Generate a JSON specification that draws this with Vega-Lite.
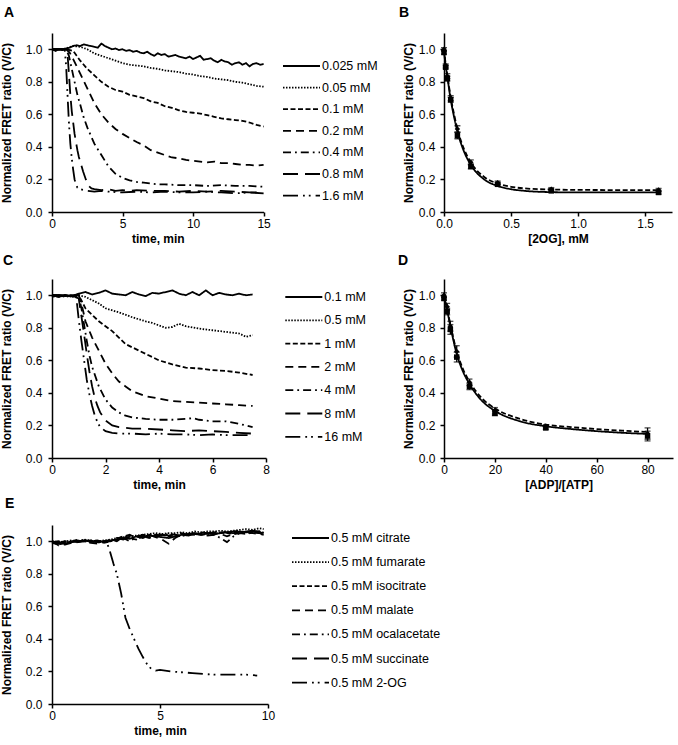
{
"$schema":"https://vega.github.io/schema/vega-lite/v6.json",
"padding":{"left":0,"top":6,"right":5,"bottom":5},
"background":"white",
"config":{
 "font":"Liberation Sans",
 "view":{"stroke":null},
 "axis":{"grid":false,"labelOverlap":false,"labelFlush":false,"domainColor":"black","domainWidth":1.5,"tickColor":"black","tickWidth":1.5,"tickSize":4,"labelFont":"Liberation Sans","labelFontSize":12,"labelColor":"black","titleFont":"Liberation Sans","titleFontSize":12,"titleFontWeight":"bold","titleColor":"black"},
 "axisX":{"labelPadding":2,"titlePadding":4},
 "axisY":{"labelPadding":6,"titlePadding":12},
 "legend":{"title":null,"orient":"none","symbolType":"stroke","symbolSize":1369,"symbolStrokeWidth":1.8,"symbolStrokeColor":"black","labelFont":"Liberation Sans","labelFontSize":12.5,"labelColor":"black","labelOffset":1,"clipHeight":11,"labelLimit":400},
 "title":{"anchor":"start","frame":"group","font":"Liberation Sans","fontSize":14,"fontWeight":"bold","color":"black","baseline":"alphabetic"}
},
"datasets":{
"A":[
{"s":"0.025 mM","t":0,"v":1.0},{"s":"0.025 mM","t":0.25,"v":0.99},{"s":"0.025 mM","t":0.5,"v":1.0},{"s":"0.025 mM","t":0.75,"v":0.995},{"s":"0.025 mM","t":1,"v":1.005},{"s":"0.025 mM","t":1.25,"v":1.01},{"s":"0.025 mM","t":1.5,"v":1.02},{"s":"0.025 mM","t":1.75,"v":1.025},{"s":"0.025 mM","t":2,"v":1.02},{"s":"0.025 mM","t":2.25,"v":1.03},{"s":"0.025 mM","t":2.5,"v":1.025},{"s":"0.025 mM","t":2.75,"v":1.02},{"s":"0.025 mM","t":3,"v":1.015},{"s":"0.025 mM","t":3.25,"v":1.01},{"s":"0.025 mM","t":3.5,"v":1.035},{"s":"0.025 mM","t":3.75,"v":1.02},{"s":"0.025 mM","t":4,"v":1.01},{"s":"0.025 mM","t":4.25,"v":1.0},{"s":"0.025 mM","t":4.5,"v":1.005},{"s":"0.025 mM","t":4.75,"v":0.995},{"s":"0.025 mM","t":5,"v":1.0},{"s":"0.025 mM","t":5.25,"v":0.99},{"s":"0.025 mM","t":5.5,"v":0.995},{"s":"0.025 mM","t":5.75,"v":0.985},{"s":"0.025 mM","t":6,"v":0.99},{"s":"0.025 mM","t":6.25,"v":0.98},{"s":"0.025 mM","t":6.5,"v":0.975},{"s":"0.025 mM","t":6.75,"v":0.985},{"s":"0.025 mM","t":7,"v":0.97},{"s":"0.025 mM","t":7.25,"v":0.96},{"s":"0.025 mM","t":7.5,"v":0.975},{"s":"0.025 mM","t":7.75,"v":0.965},{"s":"0.025 mM","t":8,"v":0.97},{"s":"0.025 mM","t":8.25,"v":0.955},{"s":"0.025 mM","t":8.5,"v":0.96},{"s":"0.025 mM","t":8.75,"v":0.965},{"s":"0.025 mM","t":9,"v":0.955},{"s":"0.025 mM","t":9.25,"v":0.95},{"s":"0.025 mM","t":9.5,"v":0.945},{"s":"0.025 mM","t":9.75,"v":0.955},{"s":"0.025 mM","t":10,"v":0.94},{"s":"0.025 mM","t":10.25,"v":0.95},{"s":"0.025 mM","t":10.5,"v":0.96},{"s":"0.025 mM","t":10.75,"v":0.935},{"s":"0.025 mM","t":11,"v":0.94},{"s":"0.025 mM","t":11.25,"v":0.945},{"s":"0.025 mM","t":11.5,"v":0.93},{"s":"0.025 mM","t":11.75,"v":0.92},{"s":"0.025 mM","t":12,"v":0.935},{"s":"0.025 mM","t":12.25,"v":0.925},{"s":"0.025 mM","t":12.5,"v":0.92},{"s":"0.025 mM","t":12.75,"v":0.905},{"s":"0.025 mM","t":13,"v":0.915},{"s":"0.025 mM","t":13.25,"v":0.92},{"s":"0.025 mM","t":13.5,"v":0.905},{"s":"0.025 mM","t":13.75,"v":0.915},{"s":"0.025 mM","t":14,"v":0.895},{"s":"0.025 mM","t":14.25,"v":0.91},{"s":"0.025 mM","t":14.5,"v":0.915},{"s":"0.025 mM","t":14.75,"v":0.905},{"s":"0.025 mM","t":15,"v":0.91},
{"s":"0.05 mM","t":0,"v":1.0},{"s":"0.05 mM","t":0.5,"v":1.0},{"s":"0.05 mM","t":1,"v":1.005},{"s":"0.05 mM","t":1.5,"v":1.02},{"s":"0.05 mM","t":2,"v":1.015},{"s":"0.05 mM","t":2.5,"v":1.0},{"s":"0.05 mM","t":3,"v":0.975},{"s":"0.05 mM","t":3.5,"v":0.96},{"s":"0.05 mM","t":4,"v":0.945},{"s":"0.05 mM","t":4.5,"v":0.93},{"s":"0.05 mM","t":5,"v":0.915},{"s":"0.05 mM","t":5.5,"v":0.905},{"s":"0.05 mM","t":6,"v":0.9},{"s":"0.05 mM","t":6.5,"v":0.895},{"s":"0.05 mM","t":7,"v":0.885},{"s":"0.05 mM","t":7.5,"v":0.88},{"s":"0.05 mM","t":8,"v":0.87},{"s":"0.05 mM","t":8.5,"v":0.865},{"s":"0.05 mM","t":9,"v":0.86},{"s":"0.05 mM","t":9.5,"v":0.85},{"s":"0.05 mM","t":10,"v":0.845},{"s":"0.05 mM","t":10.5,"v":0.835},{"s":"0.05 mM","t":11,"v":0.83},{"s":"0.05 mM","t":11.5,"v":0.82},{"s":"0.05 mM","t":12,"v":0.815},{"s":"0.05 mM","t":12.5,"v":0.81},{"s":"0.05 mM","t":13,"v":0.8},{"s":"0.05 mM","t":13.5,"v":0.795},{"s":"0.05 mM","t":14,"v":0.785},{"s":"0.05 mM","t":14.5,"v":0.775},{"s":"0.05 mM","t":15,"v":0.77},
{"s":"0.1 mM","t":0,"v":1.0},{"s":"0.1 mM","t":0.5,"v":1.0},{"s":"0.1 mM","t":1,"v":1.0},{"s":"0.1 mM","t":1.5,"v":0.99},{"s":"0.1 mM","t":1.75,"v":0.96},{"s":"0.1 mM","t":2,"v":0.93},{"s":"0.1 mM","t":2.5,"v":0.88},{"s":"0.1 mM","t":3,"v":0.84},{"s":"0.1 mM","t":3.5,"v":0.8},{"s":"0.1 mM","t":4,"v":0.77},{"s":"0.1 mM","t":4.5,"v":0.75},{"s":"0.1 mM","t":5,"v":0.74},{"s":"0.1 mM","t":5.5,"v":0.72},{"s":"0.1 mM","t":6,"v":0.71},{"s":"0.1 mM","t":6.5,"v":0.7},{"s":"0.1 mM","t":7,"v":0.68},{"s":"0.1 mM","t":7.5,"v":0.67},{"s":"0.1 mM","t":8,"v":0.65},{"s":"0.1 mM","t":8.5,"v":0.64},{"s":"0.1 mM","t":9,"v":0.625},{"s":"0.1 mM","t":9.5,"v":0.615},{"s":"0.1 mM","t":10,"v":0.61},{"s":"0.1 mM","t":10.5,"v":0.605},{"s":"0.1 mM","t":11,"v":0.595},{"s":"0.1 mM","t":11.5,"v":0.585},{"s":"0.1 mM","t":12,"v":0.575},{"s":"0.1 mM","t":12.5,"v":0.57},{"s":"0.1 mM","t":13,"v":0.565},{"s":"0.1 mM","t":13.5,"v":0.56},{"s":"0.1 mM","t":14,"v":0.55},{"s":"0.1 mM","t":14.5,"v":0.535},{"s":"0.1 mM","t":15,"v":0.525},
{"s":"0.2 mM","t":0,"v":1.0},{"s":"0.2 mM","t":0.5,"v":1.0},{"s":"0.2 mM","t":1,"v":1.0},{"s":"0.2 mM","t":1.25,"v":0.98},{"s":"0.2 mM","t":1.5,"v":0.94},{"s":"0.2 mM","t":2,"v":0.85},{"s":"0.2 mM","t":2.5,"v":0.76},{"s":"0.2 mM","t":3,"v":0.67},{"s":"0.2 mM","t":3.5,"v":0.6},{"s":"0.2 mM","t":4,"v":0.55},{"s":"0.2 mM","t":4.5,"v":0.51},{"s":"0.2 mM","t":5,"v":0.48},{"s":"0.2 mM","t":5.5,"v":0.455},{"s":"0.2 mM","t":6,"v":0.43},{"s":"0.2 mM","t":6.5,"v":0.41},{"s":"0.2 mM","t":7,"v":0.38},{"s":"0.2 mM","t":7.5,"v":0.365},{"s":"0.2 mM","t":8,"v":0.35},{"s":"0.2 mM","t":8.5,"v":0.335},{"s":"0.2 mM","t":9,"v":0.33},{"s":"0.2 mM","t":9.5,"v":0.32},{"s":"0.2 mM","t":10,"v":0.315},{"s":"0.2 mM","t":10.5,"v":0.31},{"s":"0.2 mM","t":11,"v":0.305},{"s":"0.2 mM","t":11.5,"v":0.31},{"s":"0.2 mM","t":12,"v":0.3},{"s":"0.2 mM","t":12.5,"v":0.3},{"s":"0.2 mM","t":13,"v":0.295},{"s":"0.2 mM","t":13.5,"v":0.29},{"s":"0.2 mM","t":14,"v":0.29},{"s":"0.2 mM","t":14.5,"v":0.285},{"s":"0.2 mM","t":15,"v":0.29},
{"s":"0.4 mM","t":0,"v":1.0},{"s":"0.4 mM","t":0.5,"v":1.0},{"s":"0.4 mM","t":1,"v":1.0},{"s":"0.4 mM","t":1.2,"v":0.96},{"s":"0.4 mM","t":1.4,"v":0.88},{"s":"0.4 mM","t":1.6,"v":0.8},{"s":"0.4 mM","t":1.8,"v":0.72},{"s":"0.4 mM","t":2,"v":0.66},{"s":"0.4 mM","t":2.25,"v":0.58},{"s":"0.4 mM","t":2.5,"v":0.52},{"s":"0.4 mM","t":2.75,"v":0.47},{"s":"0.4 mM","t":3,"v":0.42},{"s":"0.4 mM","t":3.5,"v":0.35},{"s":"0.4 mM","t":4,"v":0.28},{"s":"0.4 mM","t":4.5,"v":0.235},{"s":"0.4 mM","t":5,"v":0.21},{"s":"0.4 mM","t":5.5,"v":0.195},{"s":"0.4 mM","t":6,"v":0.185},{"s":"0.4 mM","t":6.5,"v":0.18},{"s":"0.4 mM","t":7,"v":0.175},{"s":"0.4 mM","t":7.5,"v":0.17},{"s":"0.4 mM","t":8,"v":0.17},{"s":"0.4 mM","t":9,"v":0.165},{"s":"0.4 mM","t":10,"v":0.165},{"s":"0.4 mM","t":11,"v":0.16},{"s":"0.4 mM","t":12,"v":0.165},{"s":"0.4 mM","t":13,"v":0.16},{"s":"0.4 mM","t":14,"v":0.16},{"s":"0.4 mM","t":15,"v":0.155},
{"s":"0.8 mM","t":0,"v":1.0},{"s":"0.8 mM","t":0.5,"v":1.0},{"s":"0.8 mM","t":1,"v":1.0},{"s":"0.8 mM","t":1.1,"v":0.97},{"s":"0.8 mM","t":1.2,"v":0.85},{"s":"0.8 mM","t":1.3,"v":0.72},{"s":"0.8 mM","t":1.4,"v":0.62},{"s":"0.8 mM","t":1.5,"v":0.55},{"s":"0.8 mM","t":1.6,"v":0.48},{"s":"0.8 mM","t":1.7,"v":0.43},{"s":"0.8 mM","t":1.8,"v":0.38},{"s":"0.8 mM","t":1.9,"v":0.34},{"s":"0.8 mM","t":2,"v":0.31},{"s":"0.8 mM","t":2.2,"v":0.25},{"s":"0.8 mM","t":2.4,"v":0.2},{"s":"0.8 mM","t":2.6,"v":0.16},{"s":"0.8 mM","t":2.8,"v":0.145},{"s":"0.8 mM","t":3,"v":0.14},{"s":"0.8 mM","t":3.5,"v":0.135},{"s":"0.8 mM","t":4,"v":0.14},{"s":"0.8 mM","t":4.5,"v":0.13},{"s":"0.8 mM","t":5,"v":0.135},{"s":"0.8 mM","t":5.5,"v":0.13},{"s":"0.8 mM","t":6,"v":0.135},{"s":"0.8 mM","t":7,"v":0.13},{"s":"0.8 mM","t":8,"v":0.13},{"s":"0.8 mM","t":9,"v":0.125},{"s":"0.8 mM","t":10,"v":0.13},{"s":"0.8 mM","t":11,"v":0.125},{"s":"0.8 mM","t":12,"v":0.13},{"s":"0.8 mM","t":13,"v":0.125},{"s":"0.8 mM","t":14,"v":0.12},{"s":"0.8 mM","t":15,"v":0.12},
{"s":"1.6 mM","t":0,"v":1.0},{"s":"1.6 mM","t":0.5,"v":1.0},{"s":"1.6 mM","t":0.9,"v":1.0},{"s":"1.6 mM","t":1.0,"v":0.9},{"s":"1.6 mM","t":1.1,"v":0.72},{"s":"1.6 mM","t":1.2,"v":0.55},{"s":"1.6 mM","t":1.3,"v":0.42},{"s":"1.6 mM","t":1.4,"v":0.33},{"s":"1.6 mM","t":1.5,"v":0.26},{"s":"1.6 mM","t":1.6,"v":0.2},{"s":"1.6 mM","t":1.7,"v":0.17},{"s":"1.6 mM","t":1.8,"v":0.15},{"s":"1.6 mM","t":2,"v":0.14},{"s":"1.6 mM","t":2.5,"v":0.13},{"s":"1.6 mM","t":3,"v":0.125},{"s":"1.6 mM","t":3.5,"v":0.13},{"s":"1.6 mM","t":4,"v":0.125},{"s":"1.6 mM","t":5,"v":0.12},{"s":"1.6 mM","t":6,"v":0.125},{"s":"1.6 mM","t":7,"v":0.12},{"s":"1.6 mM","t":8,"v":0.125},{"s":"1.6 mM","t":9,"v":0.12},{"s":"1.6 mM","t":10,"v":0.12},{"s":"1.6 mM","t":11,"v":0.125},{"s":"1.6 mM","t":12,"v":0.12},{"s":"1.6 mM","t":13,"v":0.115},{"s":"1.6 mM","t":14,"v":0.12},{"s":"1.6 mM","t":15,"v":0.115}
],
"Bfit":[
{"s":"s1","x":0,"v":1.0},{"s":"s1","x":0.0125,"v":0.91},{"s":"s1","x":0.025,"v":0.84},{"s":"s1","x":0.05,"v":0.705},{"s":"s1","x":0.075,"v":0.6},{"s":"s1","x":0.1,"v":0.51},{"s":"s1","x":0.15,"v":0.385},{"s":"s1","x":0.2,"v":0.305},{"s":"s1","x":0.3,"v":0.215},{"s":"s1","x":0.4,"v":0.175},{"s":"s1","x":0.5,"v":0.155},{"s":"s1","x":0.6,"v":0.145},{"s":"s1","x":0.8,"v":0.138},{"s":"s1","x":1.0,"v":0.136},{"s":"s1","x":1.2,"v":0.135},{"s":"s1","x":1.6,"v":0.135},
{"s":"s2","x":0,"v":0.985},{"s":"s2","x":0.0125,"v":0.9},{"s":"s2","x":0.025,"v":0.83},{"s":"s2","x":0.05,"v":0.69},{"s":"s2","x":0.075,"v":0.585},{"s":"s2","x":0.1,"v":0.495},{"s":"s2","x":0.15,"v":0.37},{"s":"s2","x":0.2,"v":0.29},{"s":"s2","x":0.3,"v":0.2},{"s":"s2","x":0.4,"v":0.16},{"s":"s2","x":0.5,"v":0.14},{"s":"s2","x":0.6,"v":0.13},{"s":"s2","x":0.8,"v":0.122},{"s":"s2","x":1.0,"v":0.12},{"s":"s2","x":1.2,"v":0.12},{"s":"s2","x":1.6,"v":0.12}
],
"Bpts":[
{"s":"s1","x":0,"v":1.0,"lo":0.99,"hi":1.01},{"s":"s1","x":0.0125,"v":0.9,"lo":0.89,"hi":0.91},{"s":"s1","x":0.025,"v":0.835,"lo":0.82,"hi":0.85},{"s":"s1","x":0.05,"v":0.7,"lo":0.685,"hi":0.715},{"s":"s1","x":0.1,"v":0.51,"lo":0.49,"hi":0.53},{"s":"s1","x":0.2,"v":0.305,"lo":0.29,"hi":0.32},{"s":"s1","x":0.4,"v":0.18,"lo":0.17,"hi":0.19},{"s":"s1","x":0.8,"v":0.14,"lo":0.13,"hi":0.15},{"s":"s1","x":1.6,"v":0.135,"lo":0.125,"hi":0.145},
{"s":"s2","x":0,"v":0.98,"lo":0.97,"hi":0.99},{"s":"s2","x":0.0125,"v":0.89,"lo":0.88,"hi":0.9},{"s":"s2","x":0.025,"v":0.82,"lo":0.805,"hi":0.835},{"s":"s2","x":0.05,"v":0.69,"lo":0.675,"hi":0.705},{"s":"s2","x":0.1,"v":0.47,"lo":0.45,"hi":0.49},{"s":"s2","x":0.2,"v":0.28,"lo":0.265,"hi":0.295},{"s":"s2","x":0.4,"v":0.17,"lo":0.16,"hi":0.18},{"s":"s2","x":0.8,"v":0.13,"lo":0.12,"hi":0.14},{"s":"s2","x":1.6,"v":0.12,"lo":0.11,"hi":0.13}
],
"C":[
{"s":"0.1 mM","t":0,"v":1.0},{"s":"0.1 mM","t":0.25,"v":0.99},{"s":"0.1 mM","t":0.5,"v":1.0},{"s":"0.1 mM","t":0.75,"v":0.995},{"s":"0.1 mM","t":1,"v":1.01},{"s":"0.1 mM","t":1.25,"v":1.02},{"s":"0.1 mM","t":1.5,"v":1.005},{"s":"0.1 mM","t":1.75,"v":1.015},{"s":"0.1 mM","t":2,"v":1.03},{"s":"0.1 mM","t":2.25,"v":1.01},{"s":"0.1 mM","t":2.5,"v":1.005},{"s":"0.1 mM","t":2.75,"v":1.0},{"s":"0.1 mM","t":3,"v":1.02},{"s":"0.1 mM","t":3.25,"v":1.005},{"s":"0.1 mM","t":3.5,"v":0.995},{"s":"0.1 mM","t":3.75,"v":1.015},{"s":"0.1 mM","t":4,"v":1.01},{"s":"0.1 mM","t":4.25,"v":1.02},{"s":"0.1 mM","t":4.5,"v":1.03},{"s":"0.1 mM","t":4.75,"v":1.01},{"s":"0.1 mM","t":5,"v":1.0},{"s":"0.1 mM","t":5.25,"v":1.02},{"s":"0.1 mM","t":5.5,"v":1.0},{"s":"0.1 mM","t":5.75,"v":1.03},{"s":"0.1 mM","t":6,"v":1.0},{"s":"0.1 mM","t":6.25,"v":1.015},{"s":"0.1 mM","t":6.5,"v":1.005},{"s":"0.1 mM","t":6.75,"v":1.0},{"s":"0.1 mM","t":7,"v":1.01},{"s":"0.1 mM","t":7.25,"v":1.0},{"s":"0.1 mM","t":7.5,"v":1.005},
{"s":"0.5 mM","t":0,"v":1.0},{"s":"0.5 mM","t":0.25,"v":0.995},{"s":"0.5 mM","t":0.5,"v":1.0},{"s":"0.5 mM","t":0.75,"v":0.99},{"s":"0.5 mM","t":1,"v":1.0},{"s":"0.5 mM","t":1.25,"v":0.99},{"s":"0.5 mM","t":1.5,"v":0.97},{"s":"0.5 mM","t":1.75,"v":0.95},{"s":"0.5 mM","t":2,"v":0.92},{"s":"0.5 mM","t":2.5,"v":0.895},{"s":"0.5 mM","t":3,"v":0.865},{"s":"0.5 mM","t":3.5,"v":0.84},{"s":"0.5 mM","t":3.75,"v":0.83},{"s":"0.5 mM","t":4,"v":0.815},{"s":"0.5 mM","t":4.25,"v":0.8},{"s":"0.5 mM","t":4.5,"v":0.805},{"s":"0.5 mM","t":4.75,"v":0.825},{"s":"0.5 mM","t":5,"v":0.81},{"s":"0.5 mM","t":5.5,"v":0.795},{"s":"0.5 mM","t":6,"v":0.785},{"s":"0.5 mM","t":6.5,"v":0.775},{"s":"0.5 mM","t":7,"v":0.765},{"s":"0.5 mM","t":7.25,"v":0.745},{"s":"0.5 mM","t":7.5,"v":0.755},
{"s":"1 mM","t":0,"v":1.0},{"s":"1 mM","t":0.25,"v":1.0},{"s":"1 mM","t":0.5,"v":0.99},{"s":"1 mM","t":0.75,"v":1.0},{"s":"1 mM","t":1,"v":1.0},{"s":"1 mM","t":1.25,"v":0.92},{"s":"1 mM","t":1.5,"v":0.88},{"s":"1 mM","t":1.75,"v":0.84},{"s":"1 mM","t":2,"v":0.81},{"s":"1 mM","t":2.25,"v":0.78},{"s":"1 mM","t":2.5,"v":0.74},{"s":"1 mM","t":2.75,"v":0.7},{"s":"1 mM","t":3,"v":0.68},{"s":"1 mM","t":3.5,"v":0.64},{"s":"1 mM","t":4,"v":0.6},{"s":"1 mM","t":4.5,"v":0.575},{"s":"1 mM","t":5,"v":0.555},{"s":"1 mM","t":5.5,"v":0.55},{"s":"1 mM","t":6,"v":0.54},{"s":"1 mM","t":6.5,"v":0.535},{"s":"1 mM","t":7,"v":0.525},{"s":"1 mM","t":7.5,"v":0.51},
{"s":"2 mM","t":0,"v":0.99},{"s":"2 mM","t":0.25,"v":1.0},{"s":"2 mM","t":0.5,"v":1.0},{"s":"2 mM","t":0.75,"v":0.995},{"s":"2 mM","t":1,"v":1.0},{"s":"2 mM","t":1.1,"v":0.95},{"s":"2 mM","t":1.25,"v":0.84},{"s":"2 mM","t":1.5,"v":0.74},{"s":"2 mM","t":1.75,"v":0.66},{"s":"2 mM","t":2,"v":0.58},{"s":"2 mM","t":2.25,"v":0.52},{"s":"2 mM","t":2.5,"v":0.47},{"s":"2 mM","t":2.75,"v":0.44},{"s":"2 mM","t":3,"v":0.41},{"s":"2 mM","t":3.5,"v":0.38},{"s":"2 mM","t":4,"v":0.365},{"s":"2 mM","t":4.5,"v":0.35},{"s":"2 mM","t":5,"v":0.345},{"s":"2 mM","t":5.5,"v":0.34},{"s":"2 mM","t":6,"v":0.335},{"s":"2 mM","t":6.5,"v":0.33},{"s":"2 mM","t":7,"v":0.325},{"s":"2 mM","t":7.5,"v":0.32},
{"s":"4 mM","t":0,"v":1.0},{"s":"4 mM","t":0.25,"v":0.99},{"s":"4 mM","t":0.5,"v":1.0},{"s":"4 mM","t":0.75,"v":1.0},{"s":"4 mM","t":1,"v":1.0},{"s":"4 mM","t":1.1,"v":0.92},{"s":"4 mM","t":1.2,"v":0.82},{"s":"4 mM","t":1.3,"v":0.72},{"s":"4 mM","t":1.4,"v":0.63},{"s":"4 mM","t":1.5,"v":0.56},{"s":"4 mM","t":1.75,"v":0.44},{"s":"4 mM","t":2,"v":0.36},{"s":"4 mM","t":2.25,"v":0.31},{"s":"4 mM","t":2.5,"v":0.28},{"s":"4 mM","t":2.75,"v":0.26},{"s":"4 mM","t":3,"v":0.25},{"s":"4 mM","t":3.5,"v":0.24},{"s":"4 mM","t":4,"v":0.235},{"s":"4 mM","t":4.5,"v":0.235},{"s":"4 mM","t":5,"v":0.24},{"s":"4 mM","t":5.25,"v":0.245},{"s":"4 mM","t":5.5,"v":0.235},{"s":"4 mM","t":6,"v":0.225},{"s":"4 mM","t":6.5,"v":0.225},{"s":"4 mM","t":7,"v":0.21},{"s":"4 mM","t":7.5,"v":0.19},
{"s":"8 mM","t":0,"v":1.0},{"s":"8 mM","t":0.25,"v":1.0},{"s":"8 mM","t":0.5,"v":0.995},{"s":"8 mM","t":0.75,"v":1.0},{"s":"8 mM","t":1,"v":0.98},{"s":"8 mM","t":1.1,"v":0.87},{"s":"8 mM","t":1.2,"v":0.76},{"s":"8 mM","t":1.3,"v":0.64},{"s":"8 mM","t":1.4,"v":0.53},{"s":"8 mM","t":1.5,"v":0.44},{"s":"8 mM","t":1.6,"v":0.37},{"s":"8 mM","t":1.7,"v":0.32},{"s":"8 mM","t":1.8,"v":0.28},{"s":"8 mM","t":2,"v":0.23},{"s":"8 mM","t":2.25,"v":0.2},{"s":"8 mM","t":2.5,"v":0.19},{"s":"8 mM","t":3,"v":0.18},{"s":"8 mM","t":3.5,"v":0.18},{"s":"8 mM","t":4,"v":0.175},{"s":"8 mM","t":4.5,"v":0.17},{"s":"8 mM","t":5,"v":0.165},{"s":"8 mM","t":5.5,"v":0.17},{"s":"8 mM","t":6,"v":0.165},{"s":"8 mM","t":6.5,"v":0.16},{"s":"8 mM","t":7,"v":0.155},{"s":"8 mM","t":7.5,"v":0.15},
{"s":"16 mM","t":0,"v":1.0},{"s":"16 mM","t":0.25,"v":1.0},{"s":"16 mM","t":0.5,"v":1.0},{"s":"16 mM","t":0.75,"v":0.99},{"s":"16 mM","t":0.9,"v":1.0},{"s":"16 mM","t":1,"v":0.85},{"s":"16 mM","t":1.1,"v":0.72},{"s":"16 mM","t":1.2,"v":0.6},{"s":"16 mM","t":1.3,"v":0.48},{"s":"16 mM","t":1.4,"v":0.39},{"s":"16 mM","t":1.5,"v":0.32},{"s":"16 mM","t":1.6,"v":0.26},{"s":"16 mM","t":1.7,"v":0.22},{"s":"16 mM","t":1.8,"v":0.19},{"s":"16 mM","t":2,"v":0.165},{"s":"16 mM","t":2.25,"v":0.155},{"s":"16 mM","t":2.5,"v":0.15},{"s":"16 mM","t":3,"v":0.15},{"s":"16 mM","t":3.5,"v":0.145},{"s":"16 mM","t":4,"v":0.15},{"s":"16 mM","t":4.5,"v":0.145},{"s":"16 mM","t":5,"v":0.145},{"s":"16 mM","t":5.5,"v":0.14},{"s":"16 mM","t":6,"v":0.145},{"s":"16 mM","t":6.5,"v":0.14},{"s":"16 mM","t":7,"v":0.14},{"s":"16 mM","t":7.5,"v":0.14}
],
"Dfit":[
{"s":"s1","x":0,"v":1.0},{"s":"s1","x":1,"v":0.935},{"s":"s1","x":2.5,"v":0.82},{"s":"s1","x":5,"v":0.655},{"s":"s1","x":7.5,"v":0.545},{"s":"s1","x":10,"v":0.47},{"s":"s1","x":15,"v":0.365},{"s":"s1","x":20,"v":0.305},{"s":"s1","x":30,"v":0.24},{"s":"s1","x":40,"v":0.205},{"s":"s1","x":50,"v":0.19},{"s":"s1","x":60,"v":0.178},{"s":"s1","x":70,"v":0.168},{"s":"s1","x":80,"v":0.16},
{"s":"s2","x":0,"v":0.99},{"s":"s2","x":1,"v":0.925},{"s":"s2","x":2.5,"v":0.81},{"s":"s2","x":5,"v":0.64},{"s":"s2","x":7.5,"v":0.53},{"s":"s2","x":10,"v":0.455},{"s":"s2","x":15,"v":0.35},{"s":"s2","x":20,"v":0.29},{"s":"s2","x":30,"v":0.225},{"s":"s2","x":40,"v":0.195},{"s":"s2","x":50,"v":0.178},{"s":"s2","x":60,"v":0.165},{"s":"s2","x":70,"v":0.155},{"s":"s2","x":80,"v":0.148}
],
"Dpts":[
{"s":"s1","x":0,"v":1.0,"lo":0.985,"hi":1.015},{"s":"s1","x":1.25,"v":0.93,"lo":0.91,"hi":0.95},{"s":"s1","x":2.5,"v":0.81,"lo":0.78,"hi":0.84},{"s":"s1","x":5,"v":0.655,"lo":0.62,"hi":0.69},{"s":"s1","x":10,"v":0.465,"lo":0.445,"hi":0.485},{"s":"s1","x":20,"v":0.29,"lo":0.27,"hi":0.31},{"s":"s1","x":40,"v":0.195,"lo":0.185,"hi":0.205},{"s":"s1","x":80,"v":0.15,"lo":0.115,"hi":0.185},
{"s":"s2","x":0,"v":0.98,"lo":0.97,"hi":0.99},{"s":"s2","x":1.25,"v":0.9,"lo":0.88,"hi":0.92},{"s":"s2","x":2.5,"v":0.79,"lo":0.76,"hi":0.82},{"s":"s2","x":5,"v":0.62,"lo":0.59,"hi":0.65},{"s":"s2","x":10,"v":0.44,"lo":0.42,"hi":0.46},{"s":"s2","x":20,"v":0.275,"lo":0.26,"hi":0.29},{"s":"s2","x":40,"v":0.185,"lo":0.175,"hi":0.195},{"s":"s2","x":80,"v":0.135,"lo":0.105,"hi":0.165}
],
"E":[
{"s":"0.5 mM citrate","t":0,"v":1.0},{"s":"0.5 mM citrate","t":0.3,"v":0.99},{"s":"0.5 mM citrate","t":0.6,"v":0.985},{"s":"0.5 mM citrate","t":0.9,"v":0.995},{"s":"0.5 mM citrate","t":1.2,"v":1.0},{"s":"0.5 mM citrate","t":1.5,"v":1.005},{"s":"0.5 mM citrate","t":1.8,"v":1.0},{"s":"0.5 mM citrate","t":2.1,"v":0.995},{"s":"0.5 mM citrate","t":2.4,"v":1.0},{"s":"0.5 mM citrate","t":2.7,"v":1.005},{"s":"0.5 mM citrate","t":3.0,"v":1.01},{"s":"0.5 mM citrate","t":3.3,"v":1.02},{"s":"0.5 mM citrate","t":3.6,"v":1.015},{"s":"0.5 mM citrate","t":3.9,"v":1.03},{"s":"0.5 mM citrate","t":4.2,"v":1.02},{"s":"0.5 mM citrate","t":4.5,"v":1.035},{"s":"0.5 mM citrate","t":4.8,"v":1.03},{"s":"0.5 mM citrate","t":5.1,"v":1.025},{"s":"0.5 mM citrate","t":5.4,"v":1.02},{"s":"0.5 mM citrate","t":5.7,"v":1.03},{"s":"0.5 mM citrate","t":6.0,"v":1.04},{"s":"0.5 mM citrate","t":6.3,"v":1.035},{"s":"0.5 mM citrate","t":6.6,"v":1.045},{"s":"0.5 mM citrate","t":6.9,"v":1.04},{"s":"0.5 mM citrate","t":7.2,"v":1.05},{"s":"0.5 mM citrate","t":7.5,"v":1.045},{"s":"0.5 mM citrate","t":7.8,"v":1.05},{"s":"0.5 mM citrate","t":8.1,"v":1.055},{"s":"0.5 mM citrate","t":8.4,"v":1.05},{"s":"0.5 mM citrate","t":8.7,"v":1.06},{"s":"0.5 mM citrate","t":9.0,"v":1.055},{"s":"0.5 mM citrate","t":9.3,"v":1.06},{"s":"0.5 mM citrate","t":9.6,"v":1.05},{"s":"0.5 mM citrate","t":9.8,"v":1.055},
{"s":"0.5 mM fumarate","t":0,"v":1.0},{"s":"0.5 mM fumarate","t":0.3,"v":0.995},{"s":"0.5 mM fumarate","t":0.6,"v":1.0},{"s":"0.5 mM fumarate","t":0.9,"v":1.005},{"s":"0.5 mM fumarate","t":1.2,"v":1.0},{"s":"0.5 mM fumarate","t":1.5,"v":1.01},{"s":"0.5 mM fumarate","t":1.8,"v":1.005},{"s":"0.5 mM fumarate","t":2.1,"v":1.0},{"s":"0.5 mM fumarate","t":2.4,"v":1.005},{"s":"0.5 mM fumarate","t":2.7,"v":1.01},{"s":"0.5 mM fumarate","t":3.0,"v":1.02},{"s":"0.5 mM fumarate","t":3.3,"v":1.025},{"s":"0.5 mM fumarate","t":3.6,"v":1.03},{"s":"0.5 mM fumarate","t":3.9,"v":1.035},{"s":"0.5 mM fumarate","t":4.2,"v":1.04},{"s":"0.5 mM fumarate","t":4.5,"v":1.045},{"s":"0.5 mM fumarate","t":4.8,"v":1.05},{"s":"0.5 mM fumarate","t":5.1,"v":1.045},{"s":"0.5 mM fumarate","t":5.4,"v":1.05},{"s":"0.5 mM fumarate","t":5.7,"v":1.05},{"s":"0.5 mM fumarate","t":6.0,"v":1.055},{"s":"0.5 mM fumarate","t":6.3,"v":1.05},{"s":"0.5 mM fumarate","t":6.6,"v":1.06},{"s":"0.5 mM fumarate","t":6.9,"v":1.055},{"s":"0.5 mM fumarate","t":7.2,"v":1.06},{"s":"0.5 mM fumarate","t":7.5,"v":1.06},{"s":"0.5 mM fumarate","t":7.8,"v":1.065},{"s":"0.5 mM fumarate","t":8.1,"v":1.06},{"s":"0.5 mM fumarate","t":8.4,"v":1.065},{"s":"0.5 mM fumarate","t":8.7,"v":1.07},{"s":"0.5 mM fumarate","t":9.0,"v":1.075},{"s":"0.5 mM fumarate","t":9.3,"v":1.07},{"s":"0.5 mM fumarate","t":9.6,"v":1.08},{"s":"0.5 mM fumarate","t":9.8,"v":1.075},
{"s":"0.5 mM isocitrate","t":0,"v":0.99},{"s":"0.5 mM isocitrate","t":0.3,"v":0.98},{"s":"0.5 mM isocitrate","t":0.6,"v":0.99},{"s":"0.5 mM isocitrate","t":0.9,"v":1.0},{"s":"0.5 mM isocitrate","t":1.2,"v":1.005},{"s":"0.5 mM isocitrate","t":1.5,"v":1.0},{"s":"0.5 mM isocitrate","t":1.8,"v":0.995},{"s":"0.5 mM isocitrate","t":2.1,"v":1.0},{"s":"0.5 mM isocitrate","t":2.4,"v":0.99},{"s":"0.5 mM isocitrate","t":2.7,"v":1.0},{"s":"0.5 mM isocitrate","t":3.0,"v":1.015},{"s":"0.5 mM isocitrate","t":3.3,"v":1.03},{"s":"0.5 mM isocitrate","t":3.6,"v":1.02},{"s":"0.5 mM isocitrate","t":3.9,"v":1.01},{"s":"0.5 mM isocitrate","t":4.2,"v":1.03},{"s":"0.5 mM isocitrate","t":4.5,"v":1.02},{"s":"0.5 mM isocitrate","t":4.8,"v":1.035},{"s":"0.5 mM isocitrate","t":5.1,"v":1.04},{"s":"0.5 mM isocitrate","t":5.4,"v":1.03},{"s":"0.5 mM isocitrate","t":5.7,"v":1.035},{"s":"0.5 mM isocitrate","t":6.0,"v":1.03},{"s":"0.5 mM isocitrate","t":6.3,"v":1.045},{"s":"0.5 mM isocitrate","t":6.6,"v":1.04},{"s":"0.5 mM isocitrate","t":6.9,"v":1.05},{"s":"0.5 mM isocitrate","t":7.2,"v":1.045},{"s":"0.5 mM isocitrate","t":7.5,"v":1.04},{"s":"0.5 mM isocitrate","t":7.8,"v":1.055},{"s":"0.5 mM isocitrate","t":8.1,"v":1.05},{"s":"0.5 mM isocitrate","t":8.4,"v":1.045},{"s":"0.5 mM isocitrate","t":8.7,"v":1.055},{"s":"0.5 mM isocitrate","t":9.0,"v":1.06},{"s":"0.5 mM isocitrate","t":9.3,"v":1.05},{"s":"0.5 mM isocitrate","t":9.6,"v":1.06},{"s":"0.5 mM isocitrate","t":9.8,"v":1.05},
{"s":"0.5 mM malate","t":0,"v":1.0},{"s":"0.5 mM malate","t":0.3,"v":0.975},{"s":"0.5 mM malate","t":0.6,"v":0.98},{"s":"0.5 mM malate","t":0.9,"v":0.99},{"s":"0.5 mM malate","t":1.2,"v":0.995},{"s":"0.5 mM malate","t":1.5,"v":1.0},{"s":"0.5 mM malate","t":1.8,"v":0.99},{"s":"0.5 mM malate","t":2.1,"v":0.985},{"s":"0.5 mM malate","t":2.4,"v":0.995},{"s":"0.5 mM malate","t":2.7,"v":1.01},{"s":"0.5 mM malate","t":3.0,"v":1.0},{"s":"0.5 mM malate","t":3.3,"v":1.03},{"s":"0.5 mM malate","t":3.6,"v":1.04},{"s":"0.5 mM malate","t":3.9,"v":1.02},{"s":"0.5 mM malate","t":4.2,"v":1.035},{"s":"0.5 mM malate","t":4.5,"v":1.04},{"s":"0.5 mM malate","t":4.8,"v":1.025},{"s":"0.5 mM malate","t":5.1,"v":1.01},{"s":"0.5 mM malate","t":5.4,"v":0.985},{"s":"0.5 mM malate","t":5.7,"v":1.02},{"s":"0.5 mM malate","t":6.0,"v":1.04},{"s":"0.5 mM malate","t":6.3,"v":1.045},{"s":"0.5 mM malate","t":6.6,"v":1.05},{"s":"0.5 mM malate","t":6.9,"v":1.04},{"s":"0.5 mM malate","t":7.2,"v":1.045},{"s":"0.5 mM malate","t":7.5,"v":1.05},{"s":"0.5 mM malate","t":7.8,"v":1.045},{"s":"0.5 mM malate","t":8.1,"v":1.03},{"s":"0.5 mM malate","t":8.4,"v":1.045},{"s":"0.5 mM malate","t":8.7,"v":1.05},{"s":"0.5 mM malate","t":9.0,"v":1.055},{"s":"0.5 mM malate","t":9.3,"v":1.05},{"s":"0.5 mM malate","t":9.6,"v":1.045},{"s":"0.5 mM malate","t":9.8,"v":1.04},
{"s":"0.5 mM ocalacetate","t":0,"v":0.995},{"s":"0.5 mM ocalacetate","t":0.3,"v":1.0},{"s":"0.5 mM ocalacetate","t":0.6,"v":0.99},{"s":"0.5 mM ocalacetate","t":0.9,"v":1.0},{"s":"0.5 mM ocalacetate","t":1.2,"v":1.01},{"s":"0.5 mM ocalacetate","t":1.5,"v":1.0},{"s":"0.5 mM ocalacetate","t":1.8,"v":1.005},{"s":"0.5 mM ocalacetate","t":2.1,"v":0.99},{"s":"0.5 mM ocalacetate","t":2.4,"v":1.0},{"s":"0.5 mM ocalacetate","t":2.7,"v":1.0},{"s":"0.5 mM ocalacetate","t":3.0,"v":1.01},{"s":"0.5 mM ocalacetate","t":3.3,"v":1.02},{"s":"0.5 mM ocalacetate","t":3.6,"v":1.0},{"s":"0.5 mM ocalacetate","t":3.9,"v":1.025},{"s":"0.5 mM ocalacetate","t":4.2,"v":1.04},{"s":"0.5 mM ocalacetate","t":4.5,"v":1.03},{"s":"0.5 mM ocalacetate","t":4.8,"v":1.04},{"s":"0.5 mM ocalacetate","t":5.1,"v":1.035},{"s":"0.5 mM ocalacetate","t":5.4,"v":1.045},{"s":"0.5 mM ocalacetate","t":5.7,"v":1.04},{"s":"0.5 mM ocalacetate","t":6.0,"v":1.035},{"s":"0.5 mM ocalacetate","t":6.3,"v":1.04},{"s":"0.5 mM ocalacetate","t":6.6,"v":1.05},{"s":"0.5 mM ocalacetate","t":6.9,"v":1.045},{"s":"0.5 mM ocalacetate","t":7.2,"v":1.035},{"s":"0.5 mM ocalacetate","t":7.5,"v":1.04},{"s":"0.5 mM ocalacetate","t":7.8,"v":1.02},{"s":"0.5 mM ocalacetate","t":8.1,"v":0.995},{"s":"0.5 mM ocalacetate","t":8.4,"v":1.03},{"s":"0.5 mM ocalacetate","t":8.7,"v":1.05},{"s":"0.5 mM ocalacetate","t":9.0,"v":1.045},{"s":"0.5 mM ocalacetate","t":9.3,"v":1.055},{"s":"0.5 mM ocalacetate","t":9.6,"v":1.05},{"s":"0.5 mM ocalacetate","t":9.8,"v":1.045},
{"s":"0.5 mM succinate","t":0,"v":1.0},{"s":"0.5 mM succinate","t":0.3,"v":0.985},{"s":"0.5 mM succinate","t":0.6,"v":0.995},{"s":"0.5 mM succinate","t":0.9,"v":1.0},{"s":"0.5 mM succinate","t":1.2,"v":0.995},{"s":"0.5 mM succinate","t":1.5,"v":1.005},{"s":"0.5 mM succinate","t":1.8,"v":1.0},{"s":"0.5 mM succinate","t":2.1,"v":1.005},{"s":"0.5 mM succinate","t":2.4,"v":0.995},{"s":"0.5 mM succinate","t":2.7,"v":1.005},{"s":"0.5 mM succinate","t":3.0,"v":1.02},{"s":"0.5 mM succinate","t":3.3,"v":1.01},{"s":"0.5 mM succinate","t":3.6,"v":1.03},{"s":"0.5 mM succinate","t":3.9,"v":1.035},{"s":"0.5 mM succinate","t":4.2,"v":1.025},{"s":"0.5 mM succinate","t":4.5,"v":1.04},{"s":"0.5 mM succinate","t":4.8,"v":1.045},{"s":"0.5 mM succinate","t":5.1,"v":1.04},{"s":"0.5 mM succinate","t":5.4,"v":1.035},{"s":"0.5 mM succinate","t":5.7,"v":1.045},{"s":"0.5 mM succinate","t":6.0,"v":1.05},{"s":"0.5 mM succinate","t":6.3,"v":1.04},{"s":"0.5 mM succinate","t":6.6,"v":1.05},{"s":"0.5 mM succinate","t":6.9,"v":1.055},{"s":"0.5 mM succinate","t":7.2,"v":1.05},{"s":"0.5 mM succinate","t":7.5,"v":1.055},{"s":"0.5 mM succinate","t":7.8,"v":1.06},{"s":"0.5 mM succinate","t":8.1,"v":1.055},{"s":"0.5 mM succinate","t":8.4,"v":1.06},{"s":"0.5 mM succinate","t":8.7,"v":1.065},{"s":"0.5 mM succinate","t":9.0,"v":1.06},{"s":"0.5 mM succinate","t":9.3,"v":1.065},{"s":"0.5 mM succinate","t":9.6,"v":1.06},{"s":"0.5 mM succinate","t":9.8,"v":1.055},
{"s":"0.5 mM 2-OG","t":0,"v":1.0},{"s":"0.5 mM 2-OG","t":0.3,"v":0.99},{"s":"0.5 mM 2-OG","t":0.6,"v":1.0},{"s":"0.5 mM 2-OG","t":0.9,"v":0.995},{"s":"0.5 mM 2-OG","t":1.2,"v":1.0},{"s":"0.5 mM 2-OG","t":1.5,"v":1.005},{"s":"0.5 mM 2-OG","t":1.8,"v":1.0},{"s":"0.5 mM 2-OG","t":2.1,"v":0.995},{"s":"0.5 mM 2-OG","t":2.4,"v":1.0},{"s":"0.5 mM 2-OG","t":2.55,"v":0.99},{"s":"0.5 mM 2-OG","t":2.7,"v":0.93},{"s":"0.5 mM 2-OG","t":2.85,"v":0.86},{"s":"0.5 mM 2-OG","t":3.0,"v":0.8},{"s":"0.5 mM 2-OG","t":3.2,"v":0.68},{"s":"0.5 mM 2-OG","t":3.4,"v":0.53},{"s":"0.5 mM 2-OG","t":3.6,"v":0.46},{"s":"0.5 mM 2-OG","t":3.8,"v":0.4},{"s":"0.5 mM 2-OG","t":4.0,"v":0.34},{"s":"0.5 mM 2-OG","t":4.2,"v":0.29},{"s":"0.5 mM 2-OG","t":4.4,"v":0.245},{"s":"0.5 mM 2-OG","t":4.6,"v":0.215},{"s":"0.5 mM 2-OG","t":4.8,"v":0.205},{"s":"0.5 mM 2-OG","t":5.0,"v":0.21},{"s":"0.5 mM 2-OG","t":5.5,"v":0.2},{"s":"0.5 mM 2-OG","t":6.0,"v":0.195},{"s":"0.5 mM 2-OG","t":6.5,"v":0.19},{"s":"0.5 mM 2-OG","t":7.0,"v":0.185},{"s":"0.5 mM 2-OG","t":7.5,"v":0.18},{"s":"0.5 mM 2-OG","t":8.0,"v":0.18},{"s":"0.5 mM 2-OG","t":8.5,"v":0.18},{"s":"0.5 mM 2-OG","t":9.0,"v":0.18},{"s":"0.5 mM 2-OG","t":9.5,"v":0.175}
]
},
"columns":2,
"bounds":"flush",
"spacing":{"row":67,"column":176},
"resolve":{"scale":{"x":"independent","y":"independent","strokeDash":"independent","shape":"independent"},"legend":{"strokeDash":"independent"}},
"concat":[
 {"width":211.6,"height":179,
  "title":{"text":"A","dx":-48,"offset":13},
  "data":{"name":"A"},
  "mark":{"type":"line","color":"black","strokeWidth":1.8},
  "encoding":{
   "x":{"field":"t","type":"quantitative","scale":{"domain":[0,15],"nice":false},"axis":{"values":[0,5,10,15],"format":"d","title":"time, min"}},
   "y":{"field":"v","type":"quantitative","scale":{"domain":[0,1.1],"nice":false},"axis":{"values":[0,0.2,0.4,0.6,0.8,1.0],"format":".1f","title":"Normalized FRET ratio (V/C)"}},
   "strokeDash":{"field":"s","type":"nominal","scale":{"domain":["0.025 mM","0.05 mM","0.1 mM","0.2 mM","0.4 mM","0.8 mM","1.6 mM"],"range":[[1,0],[1.5,1.5],[5,2.5],[8,5],[8,4,1.8,4],[15,7],[15,5,1.8,4,1.8,5]]},"legend":{"legendX":230,"legendY":27.5,"rowPadding":8.6}}
  }
 },
 {"width":228,"height":179,
  "title":{"text":"B","dx":-45,"offset":13},
  "encoding":{
   "x":{"field":"x","type":"quantitative","scale":{"domain":[0,1.7],"nice":false},"axis":{"values":[0,0.5,1.0,1.5],"format":".1f","title":"[2OG], mM"}}
  },
  "layer":[
   {"data":{"name":"Bfit"},"mark":{"type":"line","color":"black","strokeWidth":1.8,"interpolate":"monotone"},
    "encoding":{
     "y":{"field":"v","type":"quantitative","scale":{"domain":[0,1.1],"nice":false},"axis":{"values":[0,0.2,0.4,0.6,0.8,1.0],"format":".1f","title":"Normalized FRET ratio (V/C)","labelPadding":5,"titlePadding":3}},
     "strokeDash":{"field":"s","type":"nominal","scale":{"domain":["s1","s2"],"range":[[5,2.5],[1,0]]},"legend":null}}},
   {"data":{"name":"Bpts"},"mark":{"type":"errorbar","ticks":true,"size":6,"thickness":1.3,"color":"black"},
    "encoding":{
     "y":{"field":"lo","type":"quantitative","scale":{"domain":[0,1.1],"nice":false},"axis":{"values":[0,0.2,0.4,0.6,0.8,1.0],"format":".1f","title":"Normalized FRET ratio (V/C)","labelPadding":5,"titlePadding":3}},
     "y2":{"field":"hi"}}},
   {"data":{"name":"Bpts"},"mark":{"type":"point","filled":true,"color":"black","opacity":1,"size":30},
    "encoding":{
     "y":{"field":"v","type":"quantitative","scale":{"domain":[0,1.1],"nice":false},"axis":{"values":[0,0.2,0.4,0.6,0.8,1.0],"format":".1f","title":"Normalized FRET ratio (V/C)","labelPadding":5,"titlePadding":3}},
     "shape":{"field":"s","type":"nominal","scale":{"domain":["s1","s2"],"range":["diamond","square"]},"legend":null}}}
  ]
 },
 {"width":214,"height":179,
  "title":{"text":"C","dx":-49,"offset":11.5},
  "data":{"name":"C"},
  "mark":{"type":"line","color":"black","strokeWidth":1.8},
  "encoding":{
   "x":{"field":"t","type":"quantitative","scale":{"domain":[0,8],"nice":false},"axis":{"values":[0,2,4,6,8],"format":"d","title":"time, min"}},
   "y":{"field":"v","type":"quantitative","scale":{"domain":[0,1.1],"nice":false},"axis":{"values":[0,0.2,0.4,0.6,0.8,1.0],"format":".1f","title":"Normalized FRET ratio (V/C)"}},
   "strokeDash":{"field":"s","type":"nominal","scale":{"domain":["0.1 mM","0.5 mM","1 mM","2 mM","4 mM","8 mM","16 mM"],"range":[[1,0],[1.5,1.5],[5,2.5],[8,5],[8,4,1.8,4],[15,7],[15,5,1.8,4,1.8,5]]},"legend":{"legendX":232.3,"legendY":12.5,"rowPadding":10.3}}
  }
 },
 {"width":229,"height":179,
  "title":{"text":"D","dx":-46,"offset":11.5},
  "encoding":{
   "x":{"field":"x","type":"quantitative","scale":{"domain":[0,90],"nice":false},"axis":{"values":[0,20,40,60,80],"format":"d","title":"[ADP]/[ATP]"}}
  },
  "layer":[
   {"data":{"name":"Dfit"},"mark":{"type":"line","color":"black","strokeWidth":1.8,"interpolate":"monotone"},
    "encoding":{
     "y":{"field":"v","type":"quantitative","scale":{"domain":[0,1.1],"nice":false},"axis":{"values":[0,0.2,0.4,0.6,0.8,1.0],"format":".1f","title":"Normalized FRET ratio (V/C)","labelPadding":5,"titlePadding":3}},
     "strokeDash":{"field":"s","type":"nominal","scale":{"domain":["s1","s2"],"range":[[5,2.5],[1,0]]},"legend":null}}},
   {"data":{"name":"Dpts"},"mark":{"type":"errorbar","ticks":true,"size":6,"thickness":1.3,"color":"black"},
    "encoding":{
     "y":{"field":"lo","type":"quantitative","scale":{"domain":[0,1.1],"nice":false},"axis":{"values":[0,0.2,0.4,0.6,0.8,1.0],"format":".1f","title":"Normalized FRET ratio (V/C)","labelPadding":5,"titlePadding":3}},
     "y2":{"field":"hi"}}},
   {"data":{"name":"Dpts"},"mark":{"type":"point","filled":true,"color":"black","opacity":1,"size":30},
    "encoding":{
     "y":{"field":"v","type":"quantitative","scale":{"domain":[0,1.1],"nice":false},"axis":{"values":[0,0.2,0.4,0.6,0.8,1.0],"format":".1f","title":"Normalized FRET ratio (V/C)","labelPadding":5,"titlePadding":3}},
     "shape":{"field":"s","type":"nominal","scale":{"domain":["s1","s2"],"range":["diamond","square"]},"legend":null}}}
  ]
 },
 {"width":216,"height":179,
  "title":{"text":"E","dx":-47,"offset":14},
  "data":{"name":"E"},
  "mark":{"type":"line","color":"black","strokeWidth":1.8},
  "encoding":{
   "x":{"field":"t","type":"quantitative","scale":{"domain":[0,10],"nice":false},"axis":{"values":[0,5,10],"format":"d","title":"time, min"}},
   "y":{"field":"v","type":"quantitative","scale":{"domain":[0,1.1],"nice":false},"axis":{"values":[0,0.2,0.4,0.6,0.8,1.0],"format":".1f","title":"Normalized FRET ratio (V/C)"}},
   "strokeDash":{"field":"s","type":"nominal","scale":{"domain":["0.5 mM citrate","0.5 mM fumarate","0.5 mM isocitrate","0.5 mM malate","0.5 mM ocalacetate","0.5 mM succinate","0.5 mM 2-OG"],"range":[[1,0],[1.5,1.5],[5,2.5],[8,5],[8,4,1.8,4],[15,7],[15,5,1.8,4,1.8,5]]},"legend":{"legendX":239,"legendY":7.5,"rowPadding":11.1}}
  }
 }
]
}
